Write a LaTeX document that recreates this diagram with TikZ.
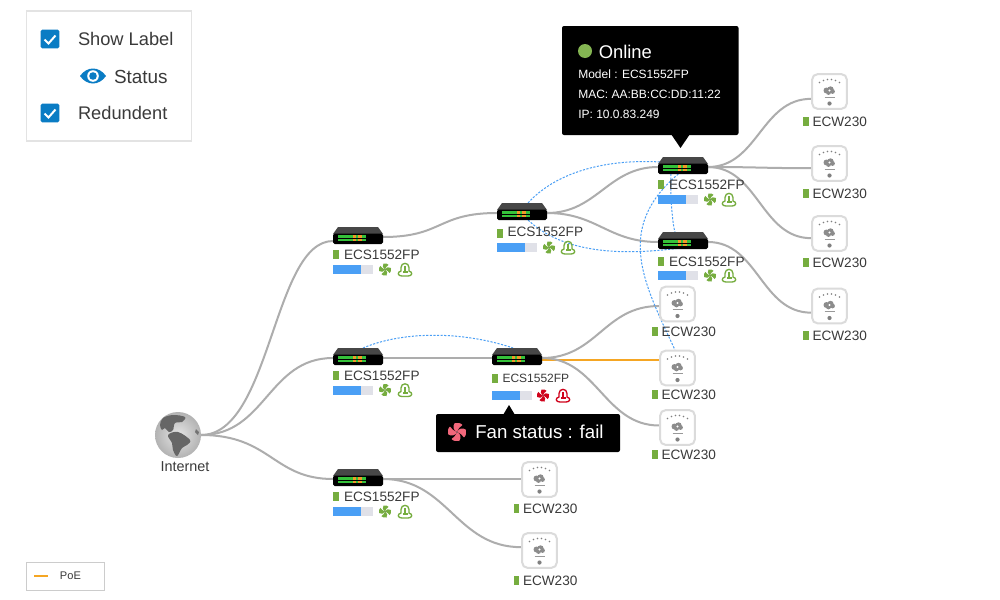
\documentclass[tikz,border=0pt]{standalone}
\usepackage{fontspec}
\setmainfont{Liberation Sans}
\usetikzlibrary{backgrounds}
\definecolor{wire}{HTML}{ADADAD}
\definecolor{redun}{HTML}{4A9FF5}
\definecolor{poe}{HTML}{F5A623}
\definecolor{okgreen}{HTML}{76AD3F}
\definecolor{failred}{HTML}{D0021B}
\definecolor{barblue}{HTML}{4A9FF5}
\definecolor{bargray}{HTML}{E0E1E8}
\definecolor{ink}{HTML}{3A3A3A}
\definecolor{uiblue}{HTML}{0A7CC4}
\definecolor{frame}{HTML}{E3E3E3}
\definecolor{pinkfan}{HTML}{F2677B}
\definecolor{ledg}{HTML}{35C23A}
\definecolor{ledo}{HTML}{F09A28}
\tikzset{
  x=0.75pt,y=-0.75pt,
  swnode/.style={minimum width=37.5pt,minimum height=10.5pt,inner sep=0pt,outer sep=0pt},
  apnode/.style={draw=black!14,fill=white,line width=1.5pt,minimum size=26pt,rounded corners=4pt,inner sep=0pt,outer sep=0.75pt},
  lab/.style={anchor=west,inner sep=0pt,outer sep=0pt,text=ink,font=\fontsize{10.2}{12}\selectfont},
  smalllab/.style={lab,font=\fontsize{9}{11}\selectfont},
  uilab/.style={lab,font=\fontsize{13.7}{16}\selectfont},
  tiplab/.style={anchor=west,inner sep=0pt,text=white,font=\fontsize{9}{10}\selectfont},
  wirel/.style={draw=wire,line width=1.5pt},
  redunl/.style={draw=redun,line width=0.75pt,dash pattern=on 1.6pt off 1.1pt},
  poel/.style={draw=poe,line width=1.5pt},
}
% switch body with its LED rows
\newcommand{\Sw}[3]{%
  \node[swnode] (#1) at (#2,#3) {};
  \begin{scope}[shift={(#2,#3)}]
    \fill[black!72] (-20,-10) -- (20,-10) -- (25,-3) -- (-25,-3) -- cycle;
    \fill[black,rounded corners=1.2pt] (-25,-3.5) rectangle (25,7);
    \foreach \j in {0,1}{
      \fill[ledg] (-20,-1.6+3.1*\j) rectangle +(28,2.6);
      \fill[ledo] (-5,-1.6+3.1*\j) rectangle +(3,2.6);
      \fill[ledo] (-0.5,-1.6+3.1*\j) rectangle +(4.5,2.6);
    }
  \end{scope}}
\newcommand{\Fan}[4]{%
  \begin{scope}[shift={(#1,#2)},scale=#4]
    \foreach \a in {0,90,180,270}{
      \fill[#3,rotate=\a] (0,0) .. controls (-2.5,-1) and (-3,-4) .. (-1.5,-6) .. controls (0.5,-6.5) and (3,-5.8) .. (3.6,-4.6) .. controls (2.2,-3.8) and (1,-2.5) .. (0,0) -- cycle;}
    \fill[black!60] (0,0) circle[radius=0.5];
  \end{scope}}
\newcommand{\Heat}[3]{%
  \begin{scope}[shift={(#1,#2)}]
    \draw[#3,line width=1pt] (-4,1.5) -- (-4,-2) .. controls (-4,-7.5) and (4,-7.5) .. (4,-2) -- (4,1.5) .. controls (8,2.5) and (7.5,6.5) .. (3,6.5) -- (-3,6.5) .. controls (-7.5,6.5) and (-8,2.5) .. (-4,1.5) -- cycle;
    \fill[#3] (-1,-3.5) rectangle (1,2);
    \fill[#3] (-2.5,1.5) rectangle (2.5,3.5);
  \end{scope}}
% status row: x of the bar, y of the bar, colour, fan x, heat x
\newcommand{\Status}[5]{%
  \fill[bargray] (#1,#2) rectangle +(40,9);
  \fill[barblue] (#1,#2) rectangle +(27.5,9);
  \Fan{#4}{#2+4.5}{#3}{1}
  \Heat{#5}{#2+4.5}{#3}}
\newcommand{\Ap}[3]{%
  \node[apnode] (#1) at (#2,#3) {};
  \begin{scope}[shift={(#2,#3)}]
    \foreach \dx/\dy in {-10/-9,-6/-11,-2/-12,2/-12,6/-11,10/-9}{\fill[black!50] (\dx,\dy) circle[radius=0.8];}
    \fill[black!45] (-3,-1) circle[radius=3] (1,-2) circle[radius=3.2] (3,0) circle[radius=2.4] (-1,1) circle[radius=2.4];
    \fill[white] (0,-1) circle[radius=1.2];
    \draw[black!40,line width=0.6pt] (-5,5.5) -- (5,5.5);
    \fill[black!50] (0,12) circle[radius=2.1];
  \end{scope}}
\newcommand{\Tag}[2]{\fill[okgreen] (#1,#2-4.5) rectangle +(5.5,9);}
\begin{document}
\begin{tikzpicture}
\useasboundingbox (0,0) rectangle (1000,600);
\begin{scope}[on background layer]
  \fill[white] (0,0) rectangle (1000,600);
\end{scope}

% Legend panel
\node[draw=frame,line width=0.9pt,minimum width=124pt,minimum height=97.5pt,inner sep=0pt] (panel) at (109,76) {};
\foreach \nm/\yy in {chkA/39,chkB/113}{
  \node[fill=uiblue,rounded corners=1.2pt,minimum size=14pt,inner sep=0pt] (\nm) at (50,\yy) {};
  \draw[white,line width=1.5pt] (44.5,\yy+0.5) -- (48.5,\yy+4.5) -- (55.5,\yy-3.5);
}
\node[uilab] (tShow) at (78,39) {Show Label};
\node[uilab] (tRed) at (78,113) {Redundent};
\fill[uiblue] (80,76) .. controls (87,66) and (99,66) .. (106,76) .. controls (99,86) and (87,86) .. (80,76) -- cycle;
\fill[white] (93,76) circle[radius=5.8];
\fill[uiblue] (93,76) circle[radius=3.8];
\node[uilab,font=\fontsize{14.2}{16}\selectfont] (tStatus) at (114,76.5) {Status};

% PoE legend
\node[draw=black!20,line width=0.75pt,minimum width=59pt,minimum height=21pt,inner sep=0pt] (poebox) at (65.5,576) {};
\draw[poel] (34,575.5) -- (48,575.5);
\node[lab,font=\fontsize{8.3}{10}\selectfont] (tPoe) at (60,576) {PoE};

% Globe
\node[circle,minimum size=34.5pt,inner sep=0pt,outer sep=0pt] (inet) at (178,435) {};
\shade[inner color=black!10,outer color=black!30] (178,435) circle[radius=23];
\begin{scope}[shift={(178,435)}]
  \fill[black!60] plot[smooth cycle,tension=0.6] coordinates {(-18,-10) (-15,-17) (-5,-20) (7,-18) (4,-13) (-3,-12) (-5,-5) (-9,-3) (-13,-7) (-16,-5)};
  \fill[black!60] plot[smooth cycle,tension=0.6] coordinates {(-10,0) (0,-3) (12,5) (9,10) (4,13) (-1,21) (-5,15) (-6,8)};
  \fill[black!55] (18,-6) -- (21,-3) -- (20,0) -- (17,-3) -- cycle;
\end{scope}
\node[lab,font=\fontsize{10.8}{12}\selectfont] (tInet) at (160.5,466.5) {Internet};

% Switches
\Sw{sA}{358}{237}
\Sw{sB}{522}{213}
\Sw{sC}{683}{167}
\Sw{sD}{683}{242}
\Sw{sE}{358}{358}
\Sw{sF}{517}{358}
\Sw{sG}{358}{479}

\Tag{333}{254} \node[lab] (lA) at (344,254.5) {ECS1552FP};
\Status{333}{265}{okgreen}{385}{405}
\Tag{497}{233.5} \node[lab] (lB) at (507.5,231.5) {ECS1552FP};
\Status{497}{243}{okgreen}{549}{568}
\Tag{658}{184} \node[lab] (lC) at (669,184.5) {ECS1552FP};
\Status{658}{195}{okgreen}{710}{729}
\Tag{658}{261.5} \node[lab] (lD) at (669,261.5) {ECS1552FP};
\Status{658}{271}{okgreen}{710}{729}
\Tag{333}{375} \node[lab] (lE) at (344,375.5) {ECS1552FP};
\Status{333}{385.5}{okgreen}{385}{405}
\Tag{492}{378.5} \node[smalllab] (lF) at (502.5,378.5) {ECS1552FP};
\Status{492}{391}{failred}{543}{563}
\Tag{333}{496} \node[lab] (lG) at (344,496.5) {ECS1552FP};
\Status{333}{507}{okgreen}{385}{405}

% Access points
\Ap{a1}{829.5}{91.5}
\Ap{a2}{829.5}{163.5}
\Ap{a3}{829.5}{233.5}
\Ap{a4}{829.5}{306}
\Ap{a5}{677.5}{304}
\Ap{a6}{677.5}{368}
\Ap{a7}{677.5}{427.5}
\Ap{a8}{539.5}{479.5}
\Ap{a9}{539.5}{550.5}
\foreach \nm/\xx/\yy in {t1/803/121.5,t2/803/193.5,t3/803/262.5,t4/803/335.5,t5/652/331.5,t6/652/394.5,t7/652/454.5,t8/513.5/508.5,t9/513.5/580.5}{
  \fill[okgreen] (\xx,\yy-4.5) rectangle +(5.5,9);
  \node[lab] (\nm) at (\xx+9.5,\yy) {ECW230};
}

% Connectors
\begin{scope}[on background layer]
  \draw[wirel] (inet.east) .. controls +(70,0) and +(-60,0) .. ([yshift=-3pt]sA.west);
  \draw[wirel] (inet.east) .. controls +(65,0) and +(-65,0) .. (sE.west);
  \draw[wirel] (inet.east) .. controls +(70,0) and +(-60,0) .. (sG.west);
  \draw[wirel] (sA.east) .. controls +(60,0) and +(-60,0) .. (sB.west);
  \draw[wirel] (sB.east) .. controls +(50,0) and +(-50,0) .. (sC.west);
  \draw[wirel] (sB.east) .. controls +(50,0) and +(-50,0) .. (sD.west);
  \draw[wirel] (sC.east) .. controls +(50,0) and +(-50,0) .. ([yshift=-5.5pt]a1.west);
  \draw[wirel] (sC.east) .. controls +(50,0) and +(-50,0) .. ([yshift=-3.5pt]a2.west);
  \draw[wirel] (sC.east) .. controls +(50,0) and +(-50,0) .. ([yshift=-3.5pt]a3.west);
  \draw[wirel] (sD.east) .. controls +(50,0) and +(-50,0) .. ([yshift=-5pt]a4.west);
  \draw[wirel] (sE.east) -- (sF.west);
  \draw[wirel] (sF.east) .. controls +(55,0) and +(-55,0) .. ([yshift=-1.5pt]a5.west);
  \draw[poel] ([yshift=-1.5pt]sF.east) -- ([yshift=6pt]a6.west);
  \draw[wirel] (sF.east) .. controls +(55,0) and +(-55,0) .. ([yshift=1.5pt]a7.west);
  \draw[wirel] (sG.east) -- (a8.west |- sG.east);
  \draw[wirel] (sG.east) .. controls +(65,0) and +(-65,0) .. ([yshift=2.5pt]a9.west);
  % redundant links
  \draw[redunl] ([xshift=4.5pt,yshift=2.25pt]sB.north) .. controls +(30,-33) and +(-50,-3) .. ([xshift=-17pt,yshift=-1.5pt]sC.north);
  \draw[redunl] ([xshift=4.5pt]sB.south) .. controls +(35,33) and +(-60,8) .. ([xshift=-2pt,yshift=0.75pt]sD.south);
  \draw[redunl] ([xshift=-3.5pt]sC.south) .. controls +(-65,55) and +(-30,-65) .. ([xshift=-2pt]a6.north);
  \draw[redunl] ([xshift=-9pt]sC.south) .. controls +(-1,15) and +(-3,-10) .. ([xshift=-6pt,yshift=2pt]sD.north);
  \draw[redunl] ([xshift=3.75pt,yshift=2.25pt]sE.north) .. controls +(40,-17) and +(-50,-17) .. ([xshift=-3pt,yshift=2.25pt]sF.north);
\end{scope}

% Tooltips
\fill[black,rounded corners=1.5pt] (562,26) rectangle (738.5,135);
\fill[black] (671,134) -- (690,134) -- (680.5,148) -- cycle;
\fill[okgreen!90!white] (585,51) circle[radius=7];
\node[tiplab,font=\fontsize{13.8}{15}\selectfont] (tipOn) at (598.5,51.5) {Online};
\node[tiplab] (tip1) at (578,74) {Model : ECS1552FP};
\node[tiplab] (tip2) at (578,94) {MAC: AA:BB:CC:DD:11:22};
\node[tiplab] (tip3) at (578,114) {IP: 10.0.83.249};

\fill[black,rounded corners=1.5pt] (436,414) rectangle (620,452);
\fill[black] (503,415) -- (515,415) -- (509,405) -- cycle;
\Fan{457}{432}{pinkfan}{1.5}
\node[tiplab,font=\fontsize{14}{16}\selectfont] (tipFan) at (475,432) {Fan status : fail};
\end{tikzpicture}
\end{document}
